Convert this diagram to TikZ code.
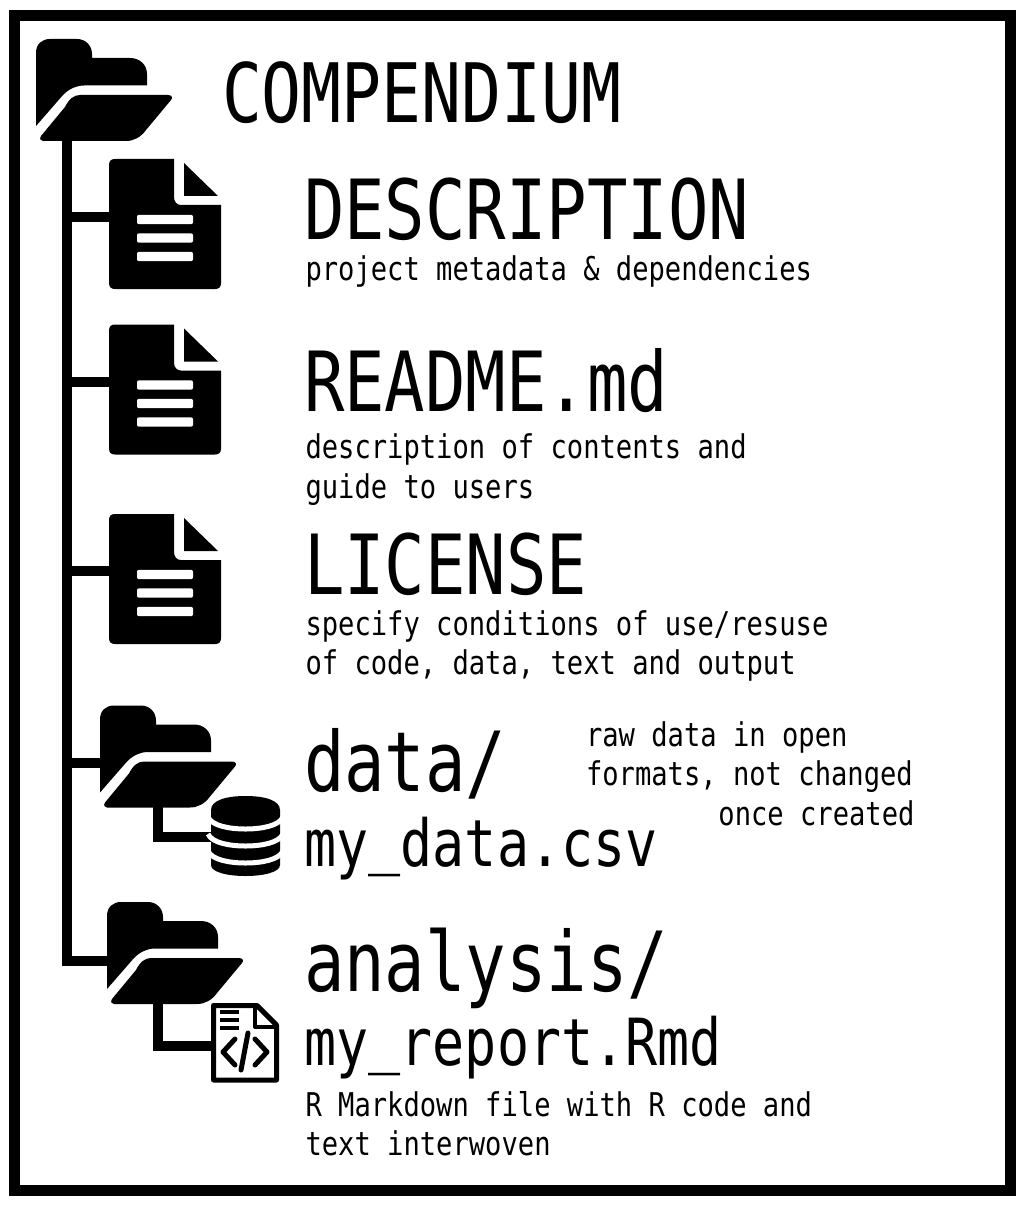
\documentclass[tikz,border=0pt]{standalone}
\usepackage{fontspec}
\newfontfamily\compfontL[FakeStretch=0.81]{DejaVu Sans Mono}
\newfontfamily\compfontM[FakeStretch=0.82]{DejaVu Sans Mono}
\newfontfamily\compfontS[FakeStretch=0.83]{DejaVu Sans Mono}
\newcommand{\txtT}{\compfontL\fontsize{82}{82}\selectfont}
\newcommand{\txtL}{\compfontL\fontsize{83}{83}\selectfont}
\newcommand{\txtM}{\compfontM\fontsize{65}{65}\selectfont}
\newcommand{\txtS}{\compfontS\fontsize{32.7}{32.7}\selectfont}
\newcommand{\usc}{\raisebox{5pt}{\_}}
\tikzset{
  titletext/.style={anchor=base west,inner sep=0pt,outer sep=0pt,font=\txtT},
  big/.style={anchor=base west,inner sep=0pt,outer sep=0pt,font=\txtL},
  mid/.style={anchor=base west,inner sep=0pt,outer sep=0pt,font=\txtM},
  small/.style={anchor=base west,inner sep=0pt,outer sep=0pt,font=\txtS},
  smallr/.style={anchor=base east,inner sep=0pt,outer sep=0pt,font=\txtS},
  tree/.style={draw=black,line width=10pt,line join=miter},
  folder/.pic={
    \fill[black] (0,87) -- (0,14) .. controls (0,5) and (6,0) .. (14,0) -- (41,0)
      .. controls (50,0) and (56,7) .. (56,15) -- (56,19) -- (94,19)
      .. controls (104,19) and (111,26) .. (111,35) -- (111,46.5) -- (48,46.5)
      .. controls (40,46.5) and (33,50) .. (27,56) -- cycle;
    \fill[black] (44,56) -- (132,56) .. controls (136,56) and (137,59) .. (135,61)
      -- (110,91) .. controls (105,98) and (98,102) .. (90,102) -- (7,102)
      .. controls (5,102) and (3,100) .. (5,97) -- (29,68)
      .. controls (33,60) and (38,56) .. (44,56) -- cycle;
  },
  docicon/.pic={
    \fill[black] (6,0) -- (65,0) -- (65,38) .. controls (65,43) and (68,46) .. (72,46)
      -- (112,46) -- (112,124) .. controls (112,128) and (110,130) .. (106,130)
      -- (6,130) .. controls (2,130) and (0,128) .. (0,124) -- (0,6)
      .. controls (0,2) and (2,0) .. (6,0) -- cycle;
    \fill[black] (75,4) -- (109,37) -- (75,37) -- cycle;
    \foreach \yy in {60.5,79,97.5}
      \fill[white,rounded corners=2pt] (28,\yy-4.7) rectangle (84,\yy+4.7);
  }
}
\begin{document}
\begin{tikzpicture}[x=1pt,y=-1pt]
\useasboundingbox (0,0) rectangle (1026,1206);
\fill[white] (0,0) rectangle (1026,1206);
\draw[black,line width=11pt] (14.8,16) rectangle (1010.2,1190.5);

% tree anchors
\coordinate (trunktop) at (67,135);
\coordinate (trunkbottom) at (67,960.5);
\coordinate (doconeleft) at (112,217);
\coordinate (doctwoleft) at (112,382);
\coordinate (docthreeleft) at (112,571);
\coordinate (dataleft) at (103,762.5);
\coordinate (analysisleft) at (110,960.5);
\coordinate (datadrop) at (158,800);
\coordinate (datacorner) at (158,837);
\coordinate (dbleft) at (213,837);
\coordinate (androp) at (158,995);
\coordinate (ancorner) at (158,1046);
\coordinate (rmdleft) at (213,1046);

\draw[tree] (trunktop) -- (trunkbottom) -- (analysisleft);
\draw[tree] (trunkbottom |- doconeleft) -- (doconeleft);
\draw[tree] (trunkbottom |- doctwoleft) -- (doctwoleft);
\draw[tree] (trunkbottom |- docthreeleft) -- (docthreeleft);
\draw[tree] (trunkbottom |- dataleft) -- (dataleft);
\draw[tree] (datadrop) -- (datacorner) -- (dbleft);
\draw[tree] (androp) -- (ancorner) -- (rmdleft);

% icons
\pic at (36,39) {folder};
\pic at (109,159) {docicon};
\pic at (109,324.5) {docicon};
\pic at (109,514) {docicon};
\pic at (100,705.5) {folder};
\pic at (107,902) {folder};

% database
\fill[black] (211,810) .. controls (211,800) and (227,796) .. (245.5,796)
  .. controls (264,796) and (280,800) .. (280,810) -- (280,865)
  .. controls (280,872) and (264,876) .. (245.5,876)
  .. controls (227,876) and (211,872) .. (211,865) -- cycle;
\foreach \yy in {0,17,34}
  \draw[white,line width=5pt] (208,817+\yy) .. controls (212,826+\yy) and (230,829+\yy) .. (245.5,829+\yy)
    .. controls (261,829+\yy) and (279,826+\yy) .. (283,817+\yy);

% Rmd file
\draw[black,line width=5pt,line join=round] (213.5,1005.5) -- (257,1005.5) -- (276.5,1025)
  -- (276.5,1080) -- (213.5,1080) -- cycle;
\draw[black,line width=4pt,line join=round] (255,1007) -- (255,1027) -- (276,1027);
\foreach \yy in {1012,1020,1028}
  \draw[black,line width=3.5pt] (220,\yy) -- (239,\yy);
\draw[black,line width=5pt,line cap=round,line join=round] (235,1039) -- (223,1052) -- (235,1065);
\draw[black,line width=5pt,line cap=round,line join=round] (255,1039) -- (267,1052) -- (255,1065);
\draw[black,line width=5pt,line cap=round] (248,1033) -- (241,1070);

% text
\node[titletext] (tcomp) at (222,122.7) {COMPENDIUM};
\node[big] (tdesc) at (304,240) {DESCRIPTION};
\node[small] (tdesca) at (305.5,280) {project metadata \& dependencies};
\node[big] (tread) at (304,411) {README.md};
\node[small] (treada) at (305.5,458) {description of contents and};
\node[small] (treadb) at (305.5,498) {guide to users};
\node[big] (tlic) at (304,594) {LICENSE};
\node[small] (tlica) at (305.5,635) {specify conditions of use/resuse};
\node[small] (tlicb) at (305.5,674) {of code, data, text and output};
\node[big] (tdata) at (304,791.5) {data/};
\node[mid] (tcsv) at (304.5,866) {my\usc data.csv};
\node[small] (traw) at (586,746) {raw data in open};
\node[small] (tform) at (586,785.5) {formats, not changed};
\node[smallr] (tonce) at (914.5,825) {once created};
\node[big] (tana) at (304,991) {analysis/};
\node[mid] (trep) at (304.5,1065) {my\usc report.Rmd};
\node[small] (trma) at (305.5,1116) {R Markdown file with R code and};
\node[small] (trmb) at (305.5,1155) {text interwoven};
\end{tikzpicture}
\end{document}
